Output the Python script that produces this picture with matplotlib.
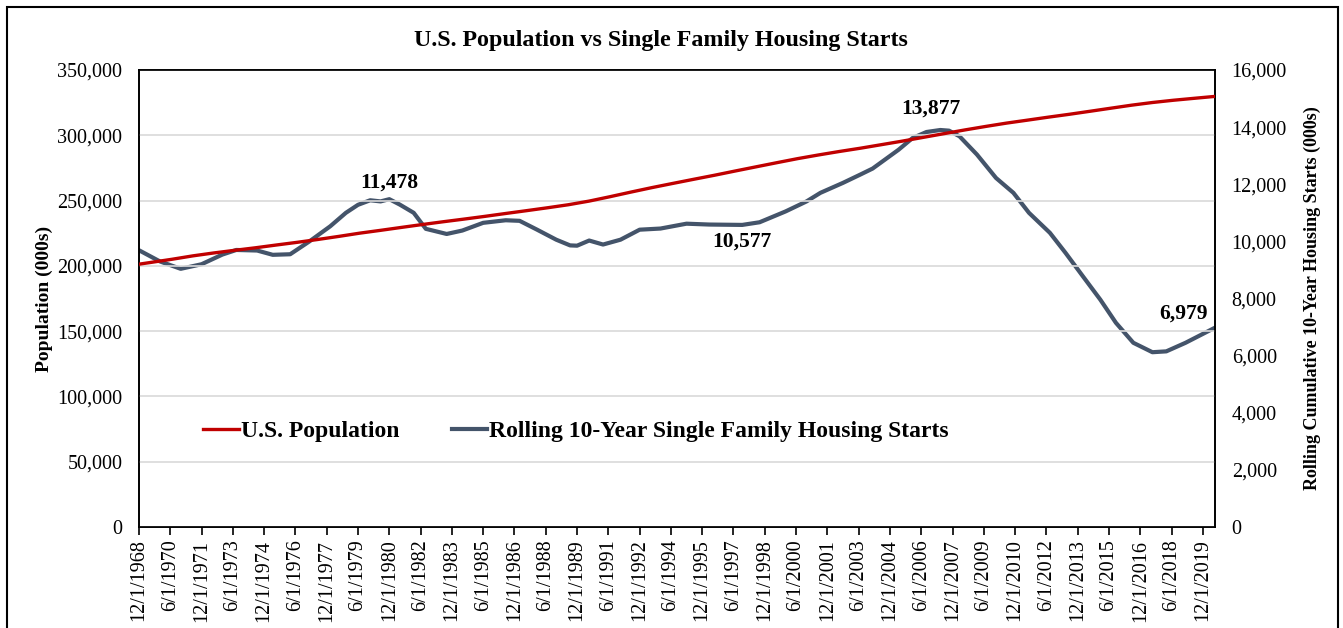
import matplotlib
matplotlib.use("Agg")
import matplotlib.pyplot as plt
from matplotlib.patches import Rectangle
import pandas as pd

plt.rcParams['font.family'] = ['Liberation Serif', 'DejaVu Serif']

# U.S. population (000s)
pop_dates = ["1968-12"] + [f"{y}-07" for y in range(1969, 2021)]
pop_values = [201300, 202677, 205052, 207661, 209896, 211909, 213854, 215973,
              218035, 220239, 222585, 225055, 227225, 229466, 231664, 233792,
              235825, 237924, 240133, 242289, 244499, 246819, 249623, 252981,
              256514, 259919, 263126, 266278, 269394, 272657, 275854, 279040,
              282162, 284969, 287625, 290108, 292805, 295517, 298380, 301231,
              304094, 306772, 309327, 311583, 313878, 316060, 318386, 320739,
              323072, 325122, 326838, 328330, 329800]

# rolling cumulative 10-year single family housing starts (000s)
hs_dates = ["1968-12", "1969-12", "1970-12", "1971-12", "1972-12", "1973-08",
            "1974-08", "1975-05", "1976-03", "1977-02", "1978-02", "1978-11",
            "1979-06", "1980-01", "1980-07", "1980-12", "1981-06", "1982-02",
            "1982-09", "1983-09", "1984-06", "1985-06", "1986-07", "1987-03",
            "1988-01", "1988-12", "1989-08", "1989-12", "1990-07", "1991-03",
            "1992-01", "1992-12", "1993-12", "1995-03", "1996-04", "1997-11",
            "1998-09", "1999-12", "2000-12", "2001-08", "2002-09", "2003-07",
            "2004-02", "2005-05", "2006-01", "2006-09", "2007-05", "2007-10",
            "2008-04", "2009-02", "2010-01", "2010-11", "2011-08", "2012-08",
            "2013-05", "2014-03", "2015-01", "2015-10", "2016-08", "2017-07",
            "2018-03", "2019-02", "2020-07"]
hs_values = [9690, 9300, 9040, 9200, 9540, 9700,
             9680, 9530, 9550, 10000, 10530, 11000,
             11280, 11440, 11400, 11478, 11290, 11000,
             10440, 10260, 10380, 10650, 10740, 10720,
             10410, 10060, 9860, 9850, 10030, 9890,
             10060, 10410, 10450, 10620, 10590, 10577,
             10670, 11050, 11400, 11700, 12050, 12340,
             12550, 13210, 13620, 13830, 13900, 13877,
             13680, 13040, 12220, 11700, 11000, 10300,
             9600, 8780, 7960, 7150, 6450, 6120,
             6150, 6450, 6979]

# (date, value, text, x offset pt, y offset pt)
callouts = [("1980-12", 11478, "11,478", 0, 5),
            ("1997-11", 10577, "10,577", 0, -5),
            ("2007-10", 13877, "13,877", -13, 9),
            ("2020-07", 6979, "6,979", -23, 3)]

pop_x = pd.to_datetime(pop_dates)
hs_x = pd.to_datetime(hs_dates)

fig = plt.figure(figsize=(13.43, 6.28), dpi=100)
ax = fig.add_axes([0.1035, 0.1608, 0.8012, 0.7277])
ax2 = ax.twinx()

l1, = ax.plot(pop_x, pop_values, color="#C00000", lw=2.4, label="U.S. Population", zorder=3)
l2, = ax2.plot(hs_x, hs_values, color="#44546A", lw=3, label="Rolling 10-Year Single Family Housing Starts")

ax.set_zorder(ax2.get_zorder() + 1)
ax.patch.set_visible(False)

fmt = matplotlib.ticker.FuncFormatter(lambda v, p: f"{int(v):,}")
ax.set_ylim(0, 350000)
ax.set_yticks(range(0, 350001, 50000))
ax.yaxis.set_major_formatter(fmt)
ax2.set_ylim(0, 16000)
ax2.set_yticks(range(0, 16001, 2000))
ax2.yaxis.set_major_formatter(fmt)
ax.grid(axis="y", color="#D9D9D9", lw=1.2)
ax.set_axisbelow(True)

ax.set_xlim(pd.Timestamp("1968-12-01"), pd.Timestamp("2020-07-01"))
ticks = pd.date_range("1968-12-01", "2019-12-01", freq="18MS")
ax.set_xticks(ticks)
ax.set_xticklabels([f"{d.month}/1/{d.year}" for d in ticks], rotation=90, fontsize=14.5)
ax.tick_params(axis="x", direction="out", length=6, width=1.2, pad=3)
ax.tick_params(axis="y", length=0, labelsize=14.5, pad=12)
ax2.tick_params(axis="y", length=0, labelsize=14.5, pad=12)

for sp in list(ax.spines.values()) + list(ax2.spines.values()):
    sp.set_linewidth(1.2)

ax.set_ylabel("Population (000s)", fontsize=14, fontweight="bold", labelpad=3)
ax2.set_ylabel("Rolling Cumulative 10-Year Housing Starts (000s)", fontsize=13,
               fontweight="bold", labelpad=12)

fig.text(0.492, 0.935, "U.S. Population vs Single Family Housing Starts",
         ha="center", va="center", fontsize=17.3, fontweight="bold")

for d, v, txt, dx, dy in callouts:
    ax2.annotate(txt, (pd.Timestamp(d), v), xytext=(dx, dy), textcoords="offset points",
                 ha="center", va="bottom" if dy > 0 else "top",
                 fontsize=15.5, fontweight="bold")

ax.legend(handles=[l1, l2], loc="center left", bbox_to_anchor=(0.04, 0.21),
          ncol=2, frameon=False, prop={"weight": "bold", "size": 17},
          handlelength=1.5, handletextpad=0.1, columnspacing=2.2)

fig.patches.append(Rectangle((7 / 1343, -0.01), 1331 / 1343, 1 - 7 / 628 + 0.01,
                             transform=fig.transFigure, fill=False, lw=1.5,
                             edgecolor="black"))

fig.savefig("out.png", dpi=100)
